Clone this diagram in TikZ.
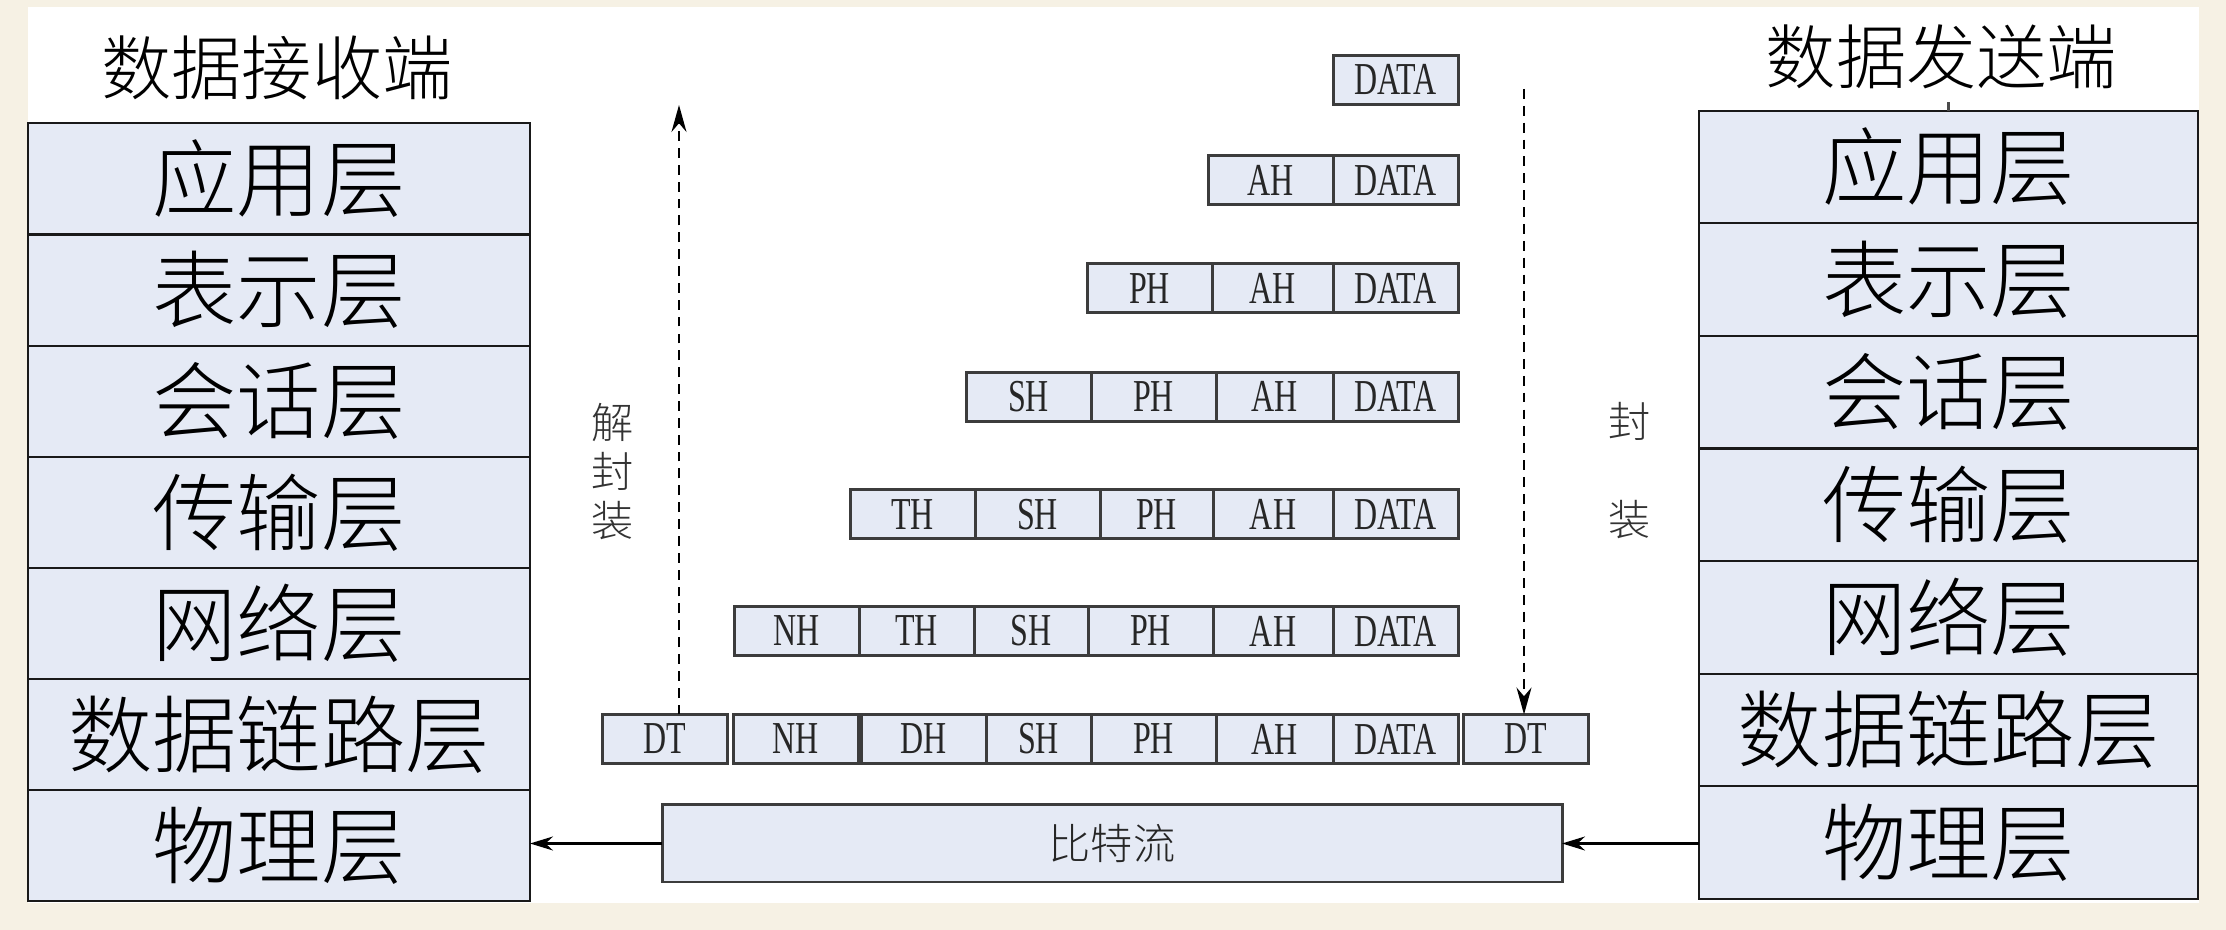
\documentclass[tikz,border=0pt]{standalone}
\usepackage{fontspec}
\setmainfont{Liberation Serif}
\newfontfamily\cjkfont{Noto Sans CJK SC Light}
\newfontfamily\hdrfont[FakeStretch=0.7]{Liberation Serif}
\usetikzlibrary{arrows.meta,positioning}
\definecolor{osibg}{HTML}{F6F1E4}
\definecolor{osifill}{HTML}{E5EAF5}
\definecolor{osiline}{HTML}{3C3C3C}

\begin{document}
\begin{tikzpicture}[node distance=0pt,
  layer/.style={draw=black!90, line width=0.6pt, fill=osifill, outer sep=0pt, inner sep=0pt, font={\cjkfont\fontsize{24pt}{28pt}\selectfont}},
  recv/.style={layer, minimum width=5.02cm, minimum height=1.111cm},
  send/.style={layer, minimum width=4.99cm, minimum height=1.126cm},
  sidetitle/.style={font={\cjkfont\fontsize{20pt}{24pt}\selectfont}},
  hdr/.style={draw=osiline, line width=0.85pt, fill=osifill, outer sep=0pt, inner sep=0pt, minimum width=1.25cm, minimum height=0.49cm, text=black!85, font={\hdrfont\fontsize{13pt}{14pt}\selectfont}},
  bitbox/.style={draw=osiline, line width=0.85pt, fill=osifill, minimum width=9cm, minimum height=0.77cm, outer sep=0pt, text=black!85, font={\cjkfont\fontsize{12pt}{14pt}\selectfont}},
  sidelabel/.style={align=center, text=black!80, inner sep=0pt, font={\cjkfont\fontsize{12pt}{13.9pt}\selectfont}},
  flowline/.style={dash pattern=on 2.8pt off 2pt, line width=0.6pt, -{Stealth[length=2.7mm,width=1.5mm]}},
  arr/.style={line width=0.6pt, -{Stealth[length=2.3mm,width=1.4mm]}}]

% page and white sheet
\fill[osibg] (0,0) rectangle (22.26,9.30);
\fill[white] (0.28,0.27) rectangle (21.99,9.23);

% receiving side
\node[sidetitle] (rtitle) at (2.77,8.62) {数据接收端};
\node[recv] (rx1) at (2.79,7.51) {应用层};
\node[recv, below=of rx1] (rx2) {表示层};
\node[recv, below=of rx2] (rx3) {会话层};
\node[recv, below=of rx3] (rx4) {传输层};
\node[recv, below=of rx4] (rx5) {网络层};
\node[recv, below=of rx5] (rx6) {数据链路层};
\node[recv, below=of rx6] (rx7) {物理层};

% sending side
\node[sidetitle] (stitle) at (19.415,8.73) {数据发送端};
\node[send] (tx1) at (19.485,7.63) {应用层};
\node[send, below=of tx1] (tx2) {表示层};
\node[send, below=of tx2] (tx3) {会话层};
\node[send, below=of tx3] (tx4) {传输层};
\node[send, below=of tx4] (tx5) {网络层};
\node[send, below=of tx5] (tx6) {数据链路层};
\node[send, below=of tx6] (tx7) {物理层};
\draw[line width=0.6pt, black!70] (tx1.north) -- (tx1.north |- stitle.south);

% headers, one row per layer
\node[hdr] (data1) at (13.955,8.502) {DATA};

\node[hdr] (data2) at (13.955,7.50) {DATA};
\node[hdr, left=of data2] (ah2) {AH};

\node[hdr] (data3) at (13.955,6.417) {DATA};
\node[hdr, left=of data3, minimum width=1.21cm] (ah3) {AH};
\node[hdr, left=of ah3] (ph3) {PH};

\node[hdr] (data4) at (13.955,5.333) {DATA};
\node[hdr, left=of data4, minimum width=1.17cm] (ah4) {AH};
\node[hdr, left=of ah4] (ph4) {PH};
\node[hdr, left=of ph4] (sh4) {SH};

\node[hdr] (data5) at (13.955,4.155) {DATA};
\node[hdr, left=of data5, minimum width=1.20cm] (ah5) {AH};
\node[hdr, left=of ah5, minimum width=1.13cm] (ph5) {PH};
\node[hdr, left=of ph5] (sh5) {SH};
\node[hdr, left=of sh5] (th5) {TH};

\node[hdr] (data6) at (13.955,2.99) {DATA};
\node[hdr, left=of data6, minimum width=1.20cm] (ah6) {AH};
\node[hdr, left=of ah6] (ph6) {PH};
\node[hdr, left=of ph6, minimum width=1.14cm] (sh6) {SH};
\node[hdr, left=of sh6, minimum width=1.15cm] (th6) {TH};
\node[hdr, left=of th6] (nh6) {NH};

\node[hdr] (data7) at (13.955,1.91) {DATA};
\node[hdr, left=of data7, minimum width=1.17cm] (ah7) {AH};
\node[hdr, left=of ah7] (ph7) {PH};
\node[hdr, left=of ph7, minimum width=1.05cm] (sh7) {SH};
\node[hdr, left=of sh7] (dh7) {DH};
\node[hdr, left=0.03cm of dh7] (nh7) {NH};
\node[hdr, left=0.06cm of nh7] (dtl) {DT};
\node[hdr, right=0.05cm of data7] (dtr) {DT};

% bit stream
\node[bitbox] (bits) at (11.12,0.865) {比特流};
\draw[arr] (tx7.west |- bits.east) -- (bits.east);
\draw[arr] (bits.west) -- (bits.west -| rx7.east);

% encapsulation directions
\coordinate (uptop) at (6.79,8.25);
\coordinate (downtop) at (15.24,8.41);
\draw[flowline] (dtl.north -| uptop) -- (uptop);
\draw[flowline] (downtop) -- (downtop |- dtr.north);
\node[sidelabel] (unpack) at (6.13,4.583) {解\\封\\装};
\node[sidelabel] (pack) at (16.30,4.59) {封\\[14pt]装};
\end{tikzpicture}
\end{document}
